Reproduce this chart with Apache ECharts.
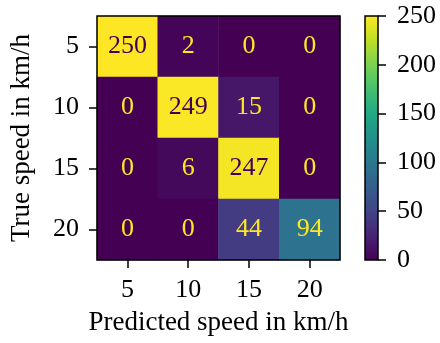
<!DOCTYPE html>
<html><head><meta charset="utf-8">
<script src="https://cdn.jsdelivr.net/npm/echarts@6/dist/echarts.min.js"></script>
<style>html,body{margin:0;padding:0;background:#fff}#c{width:440px;height:343px}</style>
</head><body><div id="c"></div>
<script>
const predCats = ['5','10','15','20'];
const trueCats = ['5','10','15','20'];
const matrix = [
  [250, 2, 0, 0],
  [0, 249, 15, 0],
  [0, 6, 247, 0],
  [0, 0, 44, 94]
];
const cbarMax = [250];
const cbarTicks = [0, 50, 100, 150, 200, 250];

const viridis = ['#440154','#482475','#414487','#355f8d','#2a788e','#21918c','#22a884','#44bf70','#7ad151','#bddf26','#fde725'];
const FONT = 'Liberation Serif';
const vmin = 0, vmax = 250;

const data = [];
matrix.forEach((row, i) => row.forEach((v, j) => {
  data.push({value: [j, i, v], label: {color: v > (vmin + vmax) / 2 ? viridis[0] : viridis[viridis.length - 1]}});
}));

const chart = echarts.init(document.getElementById('c'), null, {renderer: 'canvas'});
chart.setOption({
  animation: false,
  backgroundColor: '#fff',
  textStyle: {fontFamily: FONT},
  grid: [
    {left: 96, top: 16, width: 244, height: 244, show: true, borderColor: '#000', borderWidth: 1.5, backgroundColor: 'transparent', z: 10},
    {left: 365, top: 16, width: 13, height: 244, show: true, borderColor: '#000', borderWidth: 1.5, backgroundColor: 'transparent', z: 10}
  ],
  xAxis: [
    {type: 'category', gridIndex: 0, data: predCats, position: 'bottom',
     axisLine: {show: false}, splitLine: {show: false},
     axisTick: {show: true, alignWithLabel: true, length: 8, lineStyle: {color: '#000', width: 1.5}},
     axisLabel: {color: '#000', fontFamily: FONT, fontSize: 26, margin: 17},
     name: 'Predicted speed in km/h', nameLocation: 'middle', nameGap: 49,
     nameTextStyle: {color: '#000', fontFamily: FONT, fontSize: 27}},
    {type: 'category', gridIndex: 1, data: ['c'], show: false}
  ],
  yAxis: [
    {type: 'category', gridIndex: 0, data: trueCats, inverse: true,
     axisLine: {show: false}, splitLine: {show: false},
     axisTick: {show: true, alignWithLabel: true, length: 8, lineStyle: {color: '#000', width: 1.5}},
     axisLabel: {color: '#000', fontFamily: FONT, fontSize: 26, margin: 18},
     name: 'True speed in km/h', nameLocation: 'middle', nameGap: 62, nameRotate: 90,
     nameTextStyle: {color: '#000', fontFamily: FONT, fontSize: 27}},
    {type: 'value', gridIndex: 1, min: 0, max: 250, interval: 50, position: 'right',
     axisLine: {show: false}, splitLine: {show: false},
     axisTick: {show: true, length: 8, lineStyle: {color: '#000', width: 1.5}},
     axisLabel: {color: '#000', fontFamily: FONT, fontSize: 26, margin: 19,
       customValues: cbarTicks}}
  ],
  visualMap: {show: false, min: vmin, max: vmax, seriesIndex: 0, inRange: {color: viridis}},
  series: [
    {type: 'heatmap', xAxisIndex: 0, yAxisIndex: 0, data: data,
     label: {show: true, fontFamily: FONT, fontSize: 26, formatter: p => p.value[2]},
     itemStyle: {borderWidth: 0}, emphasis: {disabled: true}},
    {type: 'bar', xAxisIndex: 1, yAxisIndex: 1, data: cbarMax, barWidth: '100%',
     itemStyle: {color: {type: 'linear', x: 0, y: 1, x2: 0, y2: 0,
       colorStops: viridis.map((c, k) => ({offset: k / (viridis.length - 1), color: c}))}}}
  ]
});
</script></body></html>
